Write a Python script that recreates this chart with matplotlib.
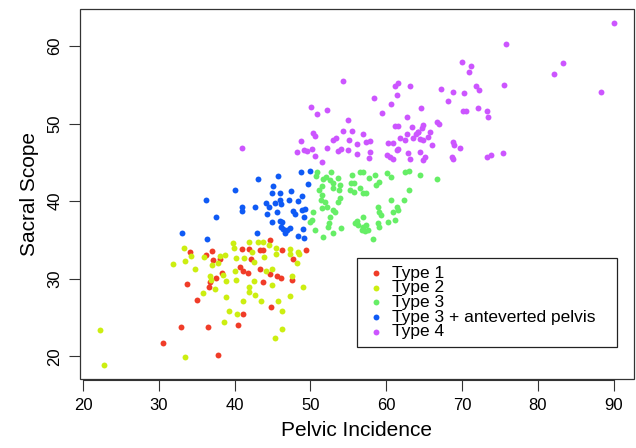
import matplotlib
matplotlib.use("Agg")
import matplotlib.pyplot as plt
from matplotlib.patches import Rectangle

plt.rcParams['font.family'] = ['Liberation Sans', 'DejaVu Sans']

# Type 1
t1_x = [34.1, 36.2, 37.0, 37.2, 38.1, 41.0, 41.9, 43.3, 43.8, 44.7, 46.25, 49.4,
        42.2, 47.65, 40.7, 41.1, 41.8, 43.3, 38.3, 37.6, 36.8, 36.6, 33.7, 43.8,
        44.7, 45.6, 46.1, 47.6, 35.0, 44.8, 41.1, 32.9, 36.55, 40.4, 30.6, 37.75]
t1_y = [33.5, 33.1, 33.55, 32.4, 32.5, 33.8, 33.85, 33.7, 33.7, 35.0, 33.7, 33.7,
        32.6, 32.6, 31.5, 31.0, 30.8, 31.3, 30.8, 30.1, 29.6, 28.9, 29.3, 29.6,
        30.6, 30.3, 30.1, 29.9, 27.2, 26.35, 25.45, 23.8, 23.8, 24.1, 21.7, 20.2]

# Type 2
t2_x = [22.3, 22.8, 33.4, 31.9, 33.3, 33.5, 34.3, 34.75, 35.95, 36.7, 36.85, 37.05,
        37.85, 37.4, 35.8, 38.5, 38.9, 38.8, 39.2, 38.6, 39.8, 39.95, 40.2, 40.0,
        40.2, 40.3, 41.1, 41.2, 41.9, 42.3, 42.6, 41.9, 41.9, 42.5, 42.75, 43.5,
        43.8, 43.9, 44.2, 45.0, 45.4, 45.0, 45.3, 45.7, 46.2, 46.3, 47.3, 47.35,
        47.6, 47.3, 48.3, 48.5, 49.0, 38.1, 38.7, 43.1, 44.5, 45.5, 48.4]
t2_y = [23.4, 18.85, 19.95, 31.95, 33.9, 32.35, 32.95, 31.3, 32.85, 30.4, 29.85, 31.8,
        32.0, 28.7, 28.2, 30.5, 29.65, 27.6, 25.9, 24.4, 34.65, 33.9, 32.7, 31.0,
        29.9, 25.5, 27.1, 32.7, 34.7, 33.4, 32.2, 28.9, 28.25, 29.7, 27.9, 27.1,
        34.75, 32.85, 31.05, 31.2, 33.2, 29.2, 22.35, 27.1, 25.9, 23.55, 33.8, 33.2,
        30.35, 27.8, 32.0, 33.25, 29.0, 32.9, 33.0, 34.7, 34.3, 33.95, 33.5]

# Type 3
t3_x = [50.85, 50.75, 51.7, 52.05, 52.7, 52.6, 52.95, 53.7, 53.9, 55.5, 56.55, 56.9,
        55.3, 55.7, 57.8, 58.5, 59.0, 58.7, 60.1, 60.7, 62.5, 63.05, 64.4, 66.7,
        51.5, 51.2, 51.5, 51.4, 53.0, 53.8, 53.9, 53.7, 55.2, 55.7, 56.55, 56.9,
        57.3, 51.9, 52.2, 53.0, 52.6, 53.2, 51.5, 50.4, 50.2, 49.95, 50.6, 51.7,
        52.95, 52.5, 52.3, 54.1, 55.9, 56.1, 56.3, 57.0, 56.8, 57.4, 57.6, 57.2,
        56.9, 58.3, 58.95, 59.1, 59.3, 58.95, 59.1, 60.3, 60.7, 60.9, 61.4, 61.6,
        61.2, 62.35, 63.05]
t3_y = [43.8, 43.2, 42.9, 43.15, 43.7, 42.7, 42.3, 42.95, 42.1, 43.4, 43.8, 43.7,
        42.3, 42.4, 43.0, 43.4, 42.5, 42.1, 43.6, 43.1, 43.7, 43.9, 43.4, 42.9,
        41.9, 41.5, 40.85, 40.2, 41.65, 41.5, 40.4, 39.95, 41.4, 41.2, 41.65, 41.0,
        41.0, 39.9, 39.3, 38.9, 38.0, 38.65, 39.1, 38.65, 37.6, 37.35, 36.3, 35.4,
        35.9, 37.2, 36.7, 36.6, 37.15, 37.5, 36.95, 36.65, 36.3, 36.95, 36.3, 36.1,
        38.0, 35.1, 39.3, 38.65, 38.2, 37.15, 36.65, 37.35, 40.1, 38.65, 39.3, 38.8,
        37.6, 40.1, 41.4]

# Type 3 + anteverted pelvis
t3a_x = [49.9, 48.8, 45.7, 43.05, 49.7, 40.1, 45.0, 46.0, 47.5, 48.9, 36.2, 44.1,
         44.5, 45.3, 46.0, 46.1, 47.2, 48.4, 42.7, 41.0, 41.0, 44.3, 45.6, 47.75,
         47.95, 48.9, 49.1, 49.3, 37.5, 44.9, 46.0, 46.3, 46.1, 46.45, 47.3, 46.6,
         49.0, 43.0, 33.0, 48.4, 49.1, 36.4, 45.1, 46.9]
t3a_y = [43.9, 43.7, 43.3, 42.85, 42.2, 41.4, 41.1, 41.1, 41.35, 40.7, 40.15, 39.8,
         39.3, 39.7, 40.15, 39.6, 40.2, 40.0, 39.3, 39.2, 38.75, 38.3, 38.6, 38.7,
         38.4, 38.85, 38.0, 39.0, 37.9, 37.3, 37.5, 37.35, 36.7, 36.4, 36.5, 35.95,
         36.4, 35.95, 35.9, 35.5, 35.3, 35.1, 41.9, 36.3]

# Type 4
t4_x = [54.35, 61.2, 61.5, 63.1, 70.0, 71.2, 70.95, 67.2, 68.8, 70.3, 68.1, 70.1,
        70.6, 71.9, 72.15, 61.4, 58.4, 60.6, 59.5, 64.6, 50.1, 50.85, 52.25, 55.0,
        62.8, 61.2, 61.5, 63.4, 64.8, 64.7, 64.25, 66.75, 67.0, 50.4, 50.6, 54.3,
        55.45, 57.0, 48.7, 52.95, 53.4, 55.1, 56.1, 57.4, 57.9, 60.3, 60.9, 61.8,
        62.5, 62.8, 63.5, 63.9, 64.4, 64.9, 65.55, 65.8, 64.25, 68.8, 68.95, 69.8,
        68.7, 68.85, 48.2, 49.1, 49.5, 50.2, 50.6, 52.2, 53.7, 54.1, 55.0, 56.1,
        57.9, 57.8, 60.1, 60.5, 61.4, 61.6, 60.9, 62.9, 63.1, 64.9, 65.1, 66.1,
        64.5, 51.5, 90.0, 75.8, 83.3, 82.15, 75.6, 88.3, 73.3, 73.4, 40.95, 73.3,
        73.8, 75.4, 72.2]
t4_y = [55.45, 54.9, 55.2, 54.8, 57.9, 57.4, 56.65, 54.4, 54.1, 54.0, 52.9, 51.6,
        51.6, 54.9, 52.0, 53.65, 53.3, 52.5, 51.4, 51.95, 52.15, 51.2, 51.8, 50.5,
        50.8, 49.65, 49.65, 49.5, 49.8, 49.4, 48.9, 50.2, 49.9, 48.8, 48.4, 49.1,
        49.1, 48.7, 47.8, 47.9, 48.1, 47.9, 47.35, 47.65, 47.7, 47.5, 47.5, 48.2,
        47.9, 48.7, 48.2, 48.6, 48.0, 47.9, 48.3, 48.9, 48.9, 47.65, 47.2, 46.9,
        45.7, 45.4, 46.4, 46.6, 46.5, 46.7, 45.8, 46.8, 46.5, 46.7, 46.6, 46.1,
        46.4, 45.5, 45.9, 45.7, 46.6, 46.7, 45.4, 46.2, 45.4, 45.3, 45.7, 47.2,
        46.4, 45.1, 63.0, 60.3, 57.8, 56.35, 55.0, 54.05, 51.6, 50.9, 46.9, 45.7,
        46.0, 46.2, 54.3]

labels = ['Type 1', 'Type 2', 'Type 3', 'Type 3 + anteverted pelvis', 'Type 4']
colors = ['#F03C28', '#CCEE11', '#66EE66', '#0F5AF5', '#CC55FF']

fig = plt.figure(figsize=(6.36, 4.48), dpi=100)
ax = fig.add_axes([0.1258, 0.154, 0.871, 0.826])

series = [(t1_x, t1_y), (t2_x, t2_y), (t3_x, t3_y), (t3a_x, t3a_y), (t4_x, t4_y)]
handles = []
for (xs, ys), lab, col in zip(series, labels, colors):
    h = ax.scatter(xs, ys, s=18, color=col, linewidths=0, label=lab, zorder=3)
    handles.append(h)

ax.set_xlim(19.6, 92.7)
ax.set_ylim(17.08, 64.77)
ax.set_xticks(range(20, 91, 10))
ax.set_yticks(range(20, 61, 10))

# R style box, x axis line only between first and last tick
for side in ['top', 'right', 'left']:
    ax.spines[side].set_visible(False)
ax.spines['bottom'].set_position(('outward', 1))
ax.spines['bottom'].set_bounds(20, 90)
ax.spines['bottom'].set_color('#333333')
ax.add_patch(Rectangle((0, 0), 1, 1, transform=ax.transAxes, fill=False,
                       edgecolor='#333333', lw=0.9, clip_on=False, zorder=5))

ax.tick_params(axis='both', length=7.7, width=0.8, color='#333333',
               labelsize=12, pad=5)
for lbl in ax.get_yticklabels():
    lbl.set_rotation(90)
    lbl.set_va('center')

ax.set_xlabel('Pelvic Incidence', fontsize=15, labelpad=6)
ax.set_ylabel('Sacral Scope', fontsize=15, labelpad=6)

leg = ax.legend(handles=handles, loc='upper left',
                bbox_to_anchor=(56.2, 32.73, 34.2, 0), bbox_transform=ax.transData,
                mode='expand', borderaxespad=0, fontsize=12.5, labelspacing=-0.035,
                borderpad=0.47, handlelength=1.15, handletextpad=0.4,
                scatterpoints=1, fancybox=False, framealpha=1, edgecolor='#222222')
leg.get_frame().set_linewidth(0.9)

fig.savefig('out.png', dpi=100)
